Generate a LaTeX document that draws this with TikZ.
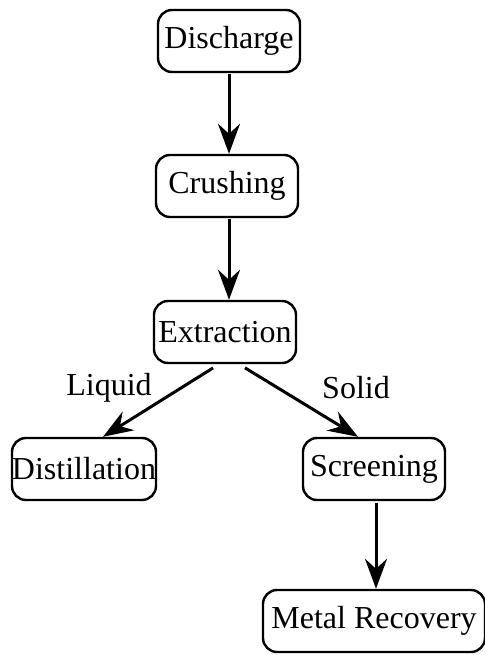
\documentclass[tikz,border=0pt]{standalone}
\usepackage{fontspec}
\setmainfont{Liberation Serif}
\usetikzlibrary{arrows.meta,positioning}
\tikzset{
  >={Stealth[length=30pt,width=22pt,inset=10pt]},
  stepbox/.style={
    rectangle,
    rounded corners=14pt,
    draw=black, line width=2.4pt,
    minimum width=142pt,
    minimum height=62pt,
    inner xsep=0pt,
    text centered},
  line/.style={draw, line width=3pt, ->},
  edgelabel/.style={inner sep=0pt},
}
\begin{document}
\begin{tikzpicture}
  [x=1pt, y=-1pt, font=\fontsize{32}{38}\selectfont]
  \useasboundingbox (0,0) rectangle (484,655);
  % main line
  \node[stepbox] (discharge) at (229,41) {Discharge};
  \node[stepbox] (crushing) at (227,186) {Crushing};
  \node[stepbox] (extraction) at (225,332) {Extraction};
  % two outputs
  \node[stepbox] (distillation) at (84,469) {Distillation};
  \node[stepbox] (screening) at (374,469) {Screening};
  \node[stepbox, minimum width=222pt] (recovery) at (374,621) {Metal Recovery};
  % connectors
  \draw[line, shorten <=1pt] (discharge.south -| 229,0) -- (crushing.north -| 229,0);
  \draw[line, shorten <=1pt] (crushing.south -| 229,0) -- (extraction.north -| 229,0);
  \draw[line, shorten <=7pt] (extraction.south -| 219,0) -- (distillation.north -| 103,0);
  \draw[line, shorten <=7pt] (extraction.south -| 239,0) -- (screening.north -| 358,0);
  \draw[line, shorten <=2pt] (screening.south -| 376,0) -- (recovery.north -| 376,0);
  % labels
  \node[edgelabel] (liquid) at (109,388) {Liquid};
  \node[edgelabel] (solid) at (356,388) {Solid};
\end{tikzpicture}
\end{document}
